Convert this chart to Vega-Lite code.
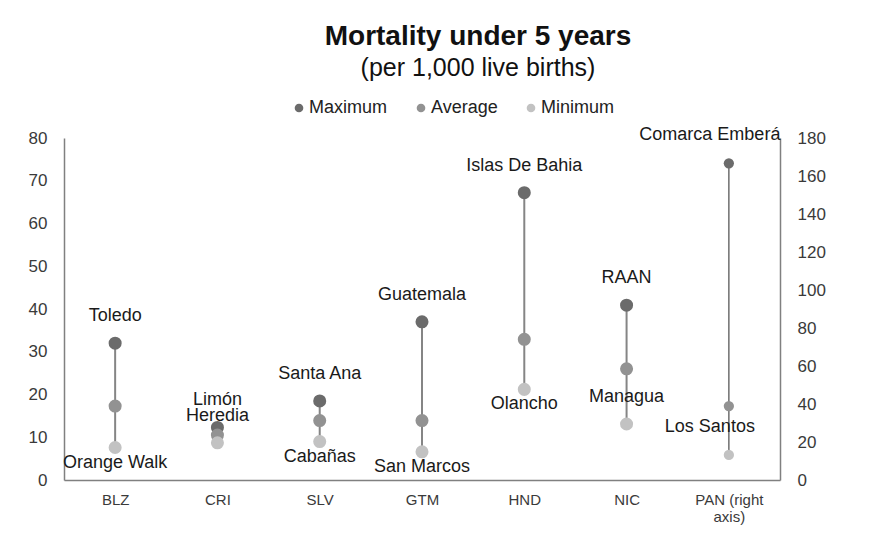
{
  "$schema": "https://vega.github.io/schema/vega-lite/v6.json",
  "width": 716,
  "height": 342,
  "autosize": {"type": "none"},
  "padding": {"left": 64, "top": 138, "right": 105, "bottom": 54},
  "background": "white",
  "config": {
    "view": {"stroke": null},
    "font": "Liberation Sans",
    "axis": {"grid": false, "ticks": false, "domainColor": "#808080", "domainWidth": 1.5, "labelColor": "#3a3a3a", "labelFont": "Liberation Sans", "labelOverlap": false}
  },
  "title": {
    "text": "Mortality under 5 years",
    "subtitle": "(per 1,000 live births)",
    "anchor": "middle",
    "frame": "group",
    "dx": 56,
    "offset": 18,
    "font": "Liberation Sans",
    "fontSize": 28,
    "fontWeight": "bold",
    "color": "#111111",
    "subtitleFont": "Liberation Sans",
    "subtitleFontSize": 25,
    "subtitleColor": "#111111",
    "subtitlePadding": 5
  },
  "data": {
    "values": [
      {"country": "BLZ", "stat": "Maximum", "value": 32.0, "label": "Toledo"},
      {"country": "BLZ", "stat": "Average", "value": 17.3, "label": ""},
      {"country": "BLZ", "stat": "Minimum", "value": 7.6, "label": "Orange Walk"},
      {"country": "CRI", "stat": "Maximum", "value": 12.3, "label": "Limón"},
      {"country": "CRI", "stat": "Average", "value": 10.5, "label": ""},
      {"country": "CRI", "stat": "Minimum", "value": 8.7, "label": "Heredia"},
      {"country": "SLV", "stat": "Maximum", "value": 18.5, "label": "Santa Ana"},
      {"country": "SLV", "stat": "Average", "value": 13.9, "label": ""},
      {"country": "SLV", "stat": "Minimum", "value": 9.0, "label": "Cabañas"},
      {"country": "GTM", "stat": "Maximum", "value": 37.0, "label": "Guatemala"},
      {"country": "GTM", "stat": "Average", "value": 13.9, "label": ""},
      {"country": "GTM", "stat": "Minimum", "value": 6.6, "label": "San Marcos"},
      {"country": "HND", "stat": "Maximum", "value": 67.2, "label": "Islas De Bahia"},
      {"country": "HND", "stat": "Average", "value": 32.9, "label": ""},
      {"country": "HND", "stat": "Minimum", "value": 21.2, "label": "Olancho"},
      {"country": "NIC", "stat": "Maximum", "value": 40.9, "label": "RAAN"},
      {"country": "NIC", "stat": "Average", "value": 26.0, "label": ""},
      {"country": "NIC", "stat": "Minimum", "value": 13.1, "label": "Managua"},
      {"country": "PAN (right axis)", "stat": "Maximum", "value": 166.7, "label": "Comarca Emberá"},
      {"country": "PAN (right axis)", "stat": "Average", "value": 38.9, "label": ""},
      {"country": "PAN (right axis)", "stat": "Minimum", "value": 13.2, "label": "Los Santos"}
    ]
  },
  "encoding": {
    "x": {
      "field": "country",
      "type": "nominal",
      "title": null,
      "scale": {"type": "point", "padding": 0.5, "domain": ["BLZ", "CRI", "SLV", "GTM", "HND", "NIC", "PAN (right axis)"]},
      "axis": {
        "labelAngle": 0,
        "labelFontSize": 15,
        "labelPadding": 12,
        "labelExpr": "datum.label == 'PAN (right axis)' ? ['PAN (right', 'axis)'] : datum.label",
        "labelLineHeight": 17
      }
    }
  },
  "layer": [
    {
      "transform": [{"filter": "datum.country !== 'PAN (right axis)'"}],
      "layer": [
        {
          "transform": [{"aggregate": [{"op": "min", "field": "value", "as": "lo"}, {"op": "max", "field": "value", "as": "hi"}], "groupby": ["country"]}],
          "mark": {"type": "rule", "color": "#858585", "strokeWidth": 2},
          "encoding": {
            "y": {"field": "lo", "type": "quantitative", "title": null, "scale": {"domain": [0, 80]}, "axis": {"orient": "left", "values": [0, 10, 20, 30, 40, 50, 60, 70, 80], "labelFontSize": 17, "labelPadding": 17, "labelOverlap": false, "labelBound": false}},
            "y2": {"field": "hi"}
          }
        },
        {
          "mark": {"type": "circle", "size": 170, "opacity": 1},
          "encoding": {
            "y": {"field": "value", "type": "quantitative"},
            "color": {"field": "stat", "type": "nominal", "title": null,
              "scale": {"domain": ["Maximum", "Average", "Minimum"], "range": ["#6b6b6b", "#929292", "#c2c2c2"]},
              "legend": {"orient": "none", "legendX": 226, "legendY": -39, "direction": "horizontal", "symbolType": "circle", "symbolSize": 75, "labelFontSize": 18, "labelColor": "#222222", "labelOffset": 1, "columnPadding": 24, "labelFont": "Liberation Sans"}
            }
          }
        },
        {
          "transform": [{"filter": "datum.label != '' && indexof(['Orange Walk', 'Cabañas', 'San Marcos', 'Olancho'], datum.label) < 0"}],
          "mark": {"type": "text", "dy": -27, "fontSize": 18, "color": "#1a1a1a", "font": "Liberation Sans"},
          "encoding": {"y": {"field": "value", "type": "quantitative"}, "text": {"field": "label"}}
        },
        {
          "transform": [{"filter": "indexof(['Orange Walk', 'Cabañas', 'San Marcos', 'Olancho'], datum.label) >= 0"}],
          "mark": {"type": "text", "dy": 15, "fontSize": 18, "color": "#1a1a1a", "font": "Liberation Sans"},
          "encoding": {"y": {"field": "value", "type": "quantitative"}, "text": {"field": "label"}}
        }
      ]
    },
    {
      "transform": [{"filter": "datum.country === 'PAN (right axis)'"}],
      "layer": [
        {
          "transform": [{"aggregate": [{"op": "min", "field": "value", "as": "lo"}, {"op": "max", "field": "value", "as": "hi"}], "groupby": ["country"]}],
          "mark": {"type": "rule", "color": "#6e6e6e", "strokeWidth": 1.5},
          "encoding": {
            "y": {"field": "lo", "type": "quantitative", "title": null, "scale": {"domain": [0, 180], "nice": false}, "axis": {"orient": "right", "values": [0, 20, 40, 60, 80, 100, 120, 140, 160, 180], "tickCount": 10, "labelFontSize": 17, "labelPadding": 17, "labelOverlap": false, "labelBound": false, "labelFlush": false}},
            "y2": {"field": "hi"}
          }
        },
        {
          "mark": {"type": "circle", "size": 105, "opacity": 1},
          "encoding": {
            "y": {"field": "value", "type": "quantitative", "title": null, "axis": {"orient": "right", "values": [0, 20, 40, 60, 80, 100, 120, 140, 160, 180], "tickCount": 10, "labelFontSize": 17, "labelPadding": 17, "labelOverlap": false, "labelBound": false, "labelFlush": false}},
            "color": {"field": "stat", "type": "nominal"}
          }
        },
        {
          "transform": [{"filter": "datum.label != ''"}],
          "mark": {"type": "text", "dy": -28, "dx": -19, "fontSize": 18, "color": "#1a1a1a", "font": "Liberation Sans"},
          "encoding": {"y": {"field": "value", "type": "quantitative", "title": null, "axis": {"orient": "right", "values": [0, 20, 40, 60, 80, 100, 120, 140, 160, 180], "tickCount": 10, "labelFontSize": 17, "labelPadding": 17, "labelOverlap": false, "labelBound": false, "labelFlush": false}}, "text": {"field": "label"}}
        }
      ]
    }
  ],
  "resolve": {"scale": {"y": "independent"}, "axis": {"y": "independent"}}
}
